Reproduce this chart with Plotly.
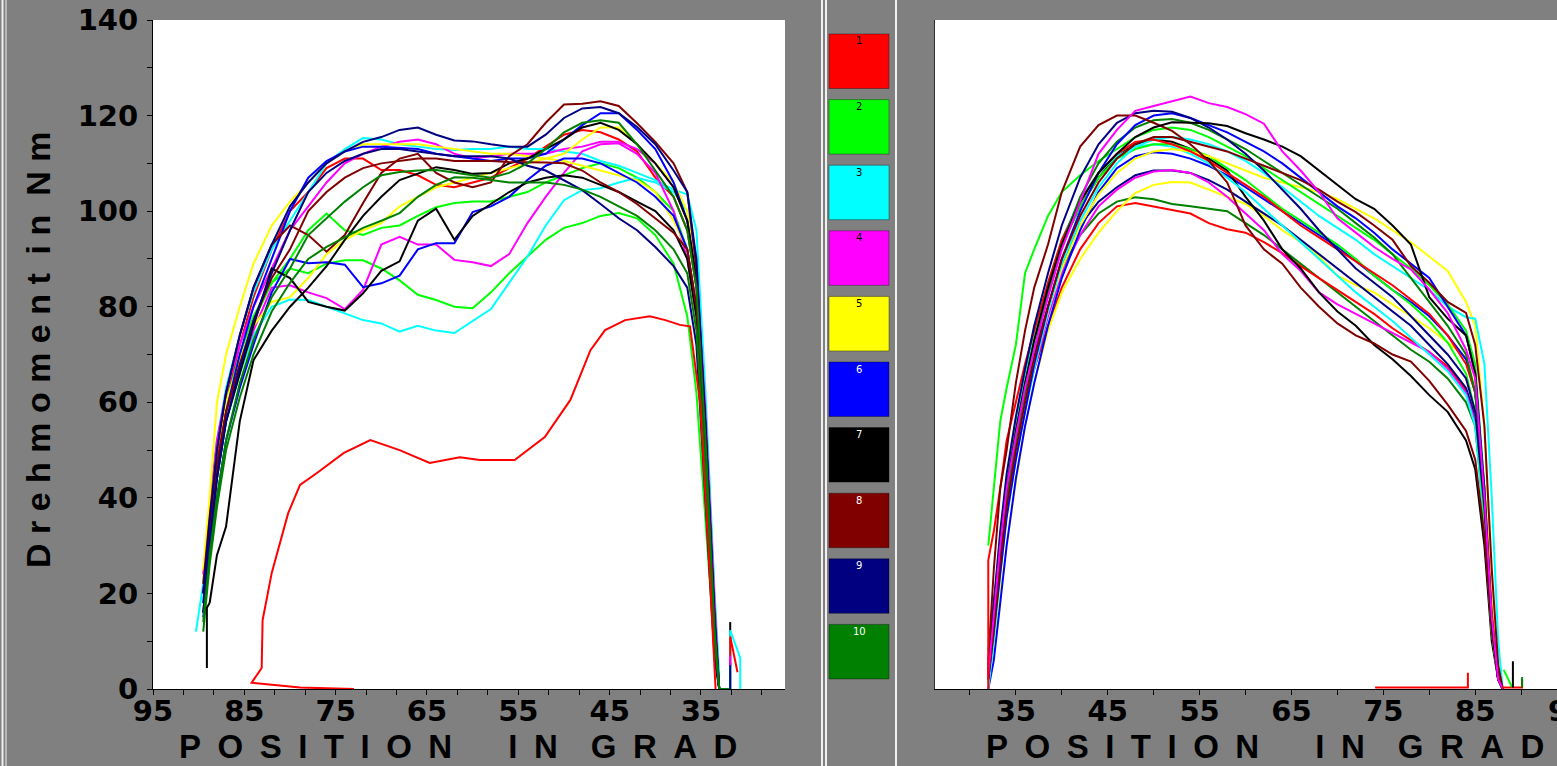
import plotly.graph_objects as go

W, H = 1557, 766

# ---------------- legend / colours ----------------
SERIES_NAMES = ["1", "2", "3", "4", "5", "6", "7", "8", "9", "10"]
SERIES_COLORS = ["#FF0000", "#00FF00", "#00FFFF", "#FF00FF", "#FFFF00",
                 "#0000FF", "#000000", "#800000", "#000080", "#008000"]
LABEL_COLORS = ["black", "black", "black", "black", "black",
                "white", "white", "white", "white", "white"]

# ---------------- left panel (position in grad, torque in Nm) ----------------
L_POS = [90.3, 89.5, 88.8, 88, 87, 85.5, 84, 82, 80, 78, 76, 74, 72, 70, 68, 66, 64, 62,
         60, 58, 56, 54, 52, 50, 48, 46, 44, 42, 40, 38, 36.5, 35.5, 34.5, 33.5, 33]

L_RED_A = [None, 20, 34, 48, 60, 72, 82, 92, 100, 104, 109, 111, 111, 108.6, 108.6, 107.5, 105.5, 105,
           106, 107, 109, 111, 113.5, 116, 117, 116.5, 115, 112.5, 107, 103, 96, 84, 55, 14, 0]
L_LIME_A = [None, 22, 36, 50, 60, 70, 78, 85, 90, 96, 99.5, 96, 95, 96.5, 97, 99, 100.8, 101.7,
            102, 102, 103, 104, 106, 107.5, 109, 110, 109, 107, 104, 100, 92, 78, 48, 12, 0]
L_LIME_B = [None, 18, 32, 46, 58, 68, 77, 85, 88, 87, 89, 89.7, 89.7, 88, 85.5, 82.5, 81.4, 80,
            79.7, 83, 87, 90.5, 94, 96.5, 97.5, 99, 99.6, 98.5, 95, 89, 78, 62, 35, 8, 0]
L_CYAN_A = [12, 22, 38, 52, 63, 74, 83, 92, 98, 104, 110, 113, 115.3, 115, 114, 113.5, 113, 112.8,
            113, 113, 113.5, 113, 113, 112.5, 112, 110.5, 109.5, 108, 106.5, 104.5, 103.5, 96, 62, 20, 3]
L_CYAN_B = [None, 20, 33, 45, 56, 66, 74, 80, 81.5, 81.4, 80, 78.7, 77.2, 76.5, 74.8, 76, 75, 74.5,
            77, 79.5, 85, 90.5, 97, 102.3, 104.4, 104.8, 106, 107, 106, 104, 100, 90, 58, 16, 0]
L_MAGENTA_A = [None, 24, 38, 52, 62, 72, 80, 88, 96, 101, 106, 110, 112, 113.5, 114.5, 115, 114, 112,
               111, 111.5, 112, 112, 112, 113, 113.5, 114.5, 114.5, 113, 110, 105, 98, 88, 58, 18, 0]
L_MAGENTA_B = [None, 20, 34, 48, 58, 67, 75, 84, 84.5, 83, 81.8, 79.5, 83.5, 93, 94.6, 93, 93, 89.8,
               89.3, 88.5, 91, 97.5, 103, 108, 112.5, 114, 114.2, 112, 108, 100, 90, 78, 50, 12, 0]
L_YELLOW_A = [None, 25, 40, 60, 70, 80, 89, 97, 102, 106, 110, 112.5, 114, 114, 114, 114, 113.5, 113,
              112.5, 112, 112, 111.5, 111, 110.5, 109.5, 108.5, 107.5, 106.5, 104, 98, 92, 78, 45, 10, 0]
L_YELLOW_B = [None, 22, 36, 50, 60, 69, 76, 81, 82, 86, 91, 94, 96, 97.5, 101, 103, 105, 106,
              107, 108, 109, 110, 111, 112, 115, 117.5, 117.5, 114, 110, 106, 100, 86, 52, 12, 0]
L_BLUE_A = [None, 18, 32, 45, 58, 70, 80, 90, 100, 107, 110.5, 112.5, 113.5, 113.5, 113.2, 113, 112, 111.5,
            111, 110.5, 111, 111, 112, 115, 118, 120.5, 120.5, 117, 113, 106, 98, 85, 50, 8, 0]
L_BLUE_B = [None, 15, 28, 40, 52, 63, 72, 83, 90, 89.1, 89.3, 88.8, 84.1, 84.9, 86.5, 92, 93.3, 93.3,
            99.8, 101, 103, 106.5, 109.5, 111, 111, 110, 108, 106, 103, 99, 92, 80, 45, 8, 0]
L_BLACK_A = [None, 16, 30, 44, 56, 66, 76, 88, 86, 81, 80, 79.2, 82.8, 87.5, 89.5, 98, 100.5, 94,
             99, 101.5, 104, 106, 107, 107.5, 107, 105.5, 104, 102, 100, 96, 90, 78, 45, 10, 0]
L_BLACK_B = [None, None, 18, 28, 34, 56, 68.8, 75, 80, 84, 88.5, 94, 99, 103, 106.5, 107.9, 109.2, 108.6,
             107.8, 108, 110, 111, 113, 115, 117.5, 118.5, 117, 114, 110, 105, 98, 86, 55, 14, 0]
L_MAROON_A = [None, 22, 36, 50, 62, 74, 84, 93, 97, 95, 91.5, 95, 101.7, 108, 111, 112, 108, 106,
              105, 106, 111.5, 114, 118.5, 122.3, 122.5, 123, 122, 118.4, 114.5, 110, 104, 88, 55, 15, 0]
L_MAROON_B = [None, 20, 34, 47, 58, 68, 77, 86, 92, 100, 104, 107, 109, 110, 110.5, 111, 111, 110.5,
              110.5, 110.5, 110.3, 110.3, 110.2, 110, 108.5, 106, 104, 101.5, 98.5, 95.5, 92, 80, 50, 12, 0]
L_NAVY_A = [None, 20, 35, 50, 62, 74, 84, 93, 101, 106, 110, 112.5, 114.5, 115.5, 117, 117.5, 116, 114.8,
            114.6, 114, 113.5, 113.5, 116, 119.5, 121.5, 121.8, 120.5, 117.6, 114, 108.5, 104, 90, 55, 14, 0]
L_NAVY_B = [None, 16, 30, 44, 56, 67, 77, 87, 96, 104, 108, 110.5, 112, 113, 113, 112.5, 112, 111.5,
            111.5, 111.5, 111, 109.5, 108.5, 106.5, 104.4, 101.5, 98.5, 96, 92.5, 88.5, 84, 72, 40, 6, 0]
L_GREEN_A = [None, 14, 28, 40, 52, 64, 73, 82, 88, 95, 98.5, 102, 105, 107.5, 108.2, 108.5, 108.6, 108,
             107.5, 107, 108, 110, 113, 116.5, 118.5, 119, 118.5, 114, 108.6, 103, 96, 84, 52, 12, 0]
L_GREEN_B = [None, 12, 26, 38, 50, 61, 70, 79, 85, 90, 92.5, 94.5, 96.5, 98, 99.6, 103, 105.5, 107.1,
             107, 106.5, 106, 106, 106, 105.5, 104.5, 103, 101, 99, 96, 92, 87, 75, 45, 10, 0]

# low red run (own positions)
L_RED_LOW_POS = [73.0, 78.9, 84.2, 83.1, 83.0, 82.0, 80.2, 78.9, 76.9, 74.1, 71.2, 68.0, 64.7, 61.4,
                 59.2, 55.4, 52.1, 49.3, 47.1, 45.5, 43.3, 40.6, 38.9, 37.3, 36.2, 35.1, 34.2, 33.4]
L_RED_LOW_VAL = [0, 0.3, 1.3, 4.4, 14.4, 24.3, 36.8, 42.7, 45.4, 49.4, 52.1, 50.0, 47.3, 48.5,
                 47.9, 47.9, 52.7, 60.5, 70.9, 75.1, 77.2, 78.0, 77.2, 76.2, 75.9, 60, 30, 0]

# short end pieces (position list, torque list, colour index)
L_TAILS = [
    ([33, 31.8], [0, 0], 9),
    ([31.8, 31.8], [0, 14], 6),
    ([31.8, 31.8, 30.7, 30.7], [0, 12.3, 6.5, 0], 2),
    ([31.8, 31.8, 31.0], [5, 11, 3.5], 0),
    ([31.8, 31.8], [0, 5.5], 8),
    ([31.8, 31.8], [5, 7], 3),
    ([89.1, 89.1, 88.8], [4.4, 17, 18], 6),
]

L_CURVES = [
    (L_RED_A, 0), (L_LIME_A, 1), (L_LIME_B, 1), (L_CYAN_A, 2), (L_CYAN_B, 2),
    (L_MAGENTA_A, 3), (L_MAGENTA_B, 3), (L_YELLOW_A, 4), (L_YELLOW_B, 4),
    (L_BLUE_A, 5), (L_BLUE_B, 5), (L_BLACK_A, 6), (L_BLACK_B, 6),
    (L_MAROON_A, 7), (L_MAROON_B, 7), (L_NAVY_A, 8), (L_NAVY_B, 8),
    (L_GREEN_A, 9), (L_GREEN_B, 9),
]

# ---------------- right panel ----------------
R_POS = [32, 32.6, 33.3, 34, 35, 36, 37, 38.5, 40, 42, 44, 46, 48, 50, 52, 54, 56, 58, 60, 62,
         64, 66, 68, 70, 72, 74, 76, 78, 80, 82, 84, 85, 86, 86.8, 87.5, 88]

R_MAGENTA_A = [3, 15, 30, 42, 53, 63, 71, 82, 92, 102, 112, 117, 121, 122, 123, 124, 122.6, 121.8, 120.3, 118.3,
               112.5, 108.5, 104, 98.5, 95.5, 92.5, 90, 87.8, 83.6, 78.7, 71, 65, 40, 15, 2, 0]
R_BLACK_A = [4, 16, 30, 42, 54, 64, 73, 84, 93, 102, 108, 112, 115.5, 117.5, 118.6, 118.5, 118.4, 117.8, 116.3, 115,
             113.5, 111.5, 108.5, 105.5, 102.5, 100.5, 97, 93, 82, 77.5, 74, 66, 40, 14, 2, 0]
R_MAROON_A = [6, 25, 42, 50, 64, 75, 84, 93, 104, 113.5, 118, 120, 120, 118.5, 116.8, 114, 110.5, 106, 97, 92,
              89, 84, 80, 76.5, 74, 72.3, 70, 68.5, 64.5, 59.5, 54, 48, 32, 12, 2, 0]
R_MAROON_B = [2, 12, 26, 38, 50, 60, 69, 80, 90, 99, 106, 111, 114, 115.5, 115.5, 114.5, 113.5, 112.5, 111, 109.5,
              108, 106.5, 104.5, 102, 99.8, 97, 94, 88.5, 85, 81, 78.7, 72, 55, 25, 5, 0]
R_NAVY_A = [5, 18, 33, 45, 57, 67, 76, 87, 97, 107, 114, 118.5, 120.5, 121, 120.8, 119.5, 117.5, 115, 112, 108.5,
            104.5, 100.5, 96, 92, 88, 85, 82, 78, 74, 70, 65, 58, 38, 14, 2, 0]
R_BLUE_A = [2, 12, 24, 36, 48, 58, 68, 80, 90, 100, 108, 114, 118, 120, 120.5, 119.5, 118, 116.5, 114.5, 112.5,
            110, 107, 104, 101, 98.5, 95.5, 92, 89, 86, 80, 74, 66, 42, 14, 2, 0]
R_GREEN_A = [4, 14, 28, 40, 52, 62, 71, 83, 93, 103, 110, 114.5, 117.5, 119, 119.3, 118.5, 117, 115, 113, 110.5,
             108, 105.5, 103, 100.5, 97.5, 94.5, 91, 86, 81, 76, 70, 62, 40, 15, 2, 0]
R_LIME_A = [30, 42, 56, 63, 72, 87, 92, 99, 104, 107.5, 110.5, 113, 115.5, 117, 117.5, 117, 115.5, 113.5, 111.5, 109,
            106.5, 104, 101.5, 99, 96.5, 94, 91, 88, 84.5, 80.5, 75, 68, 42, 14, 2, 0]
R_CYAN_A = [0, 10, 24, 36, 48, 58, 67, 79, 89, 98, 105, 110, 113.5, 115, 115.5, 115, 114, 112.5, 110.5, 108,
            105, 102, 99, 96.5, 94, 91, 88.5, 86, 83.5, 80, 77.8, 77.5, 68, 40, 10, 0]
R_RED_A = [27, 33, 42, 52, 60, 68, 75, 85, 94, 102, 108, 112, 114.5, 115, 114, 112.5, 110.5, 108, 105.5, 103,
           100, 97, 94.5, 92, 89.5, 87, 84.5, 81.5, 78.5, 74, 68, 62, 42, 16, 3, 0]
R_RED_B = [3, 14, 28, 40, 52, 60, 67, 76, 84, 92, 97.5, 101, 101.7, 101, 100.2, 99.5, 97.5, 96.2, 95.5, 93.5,
           91.2, 88.5, 86, 83.5, 81, 78.5, 75.5, 73, 70.5, 67.5, 62.5, 57, 35, 12, 2, 0]
R_GREEN_B = [8, 18, 30, 42, 54, 62, 70, 80, 88, 95, 99.5, 102, 102.9, 102.5, 101.5, 101, 100.5, 100, 97.5, 95,
             92, 89, 86, 83, 80, 77, 74, 71, 68.5, 65, 60, 55, 35, 12, 2, 0]
R_YELLOW_B = [2, 8, 20, 30, 43, 55, 64, 75, 83, 90, 95.5, 100, 103.8, 105.5, 106.1, 106, 104.5, 103, 101.5, 99,
              96, 93.5, 90.5, 86.5, 84.5, 83, 80.5, 78, 75.5, 72.5, 69.5, 63, 42, 15, 3, 0]
R_YELLOW_A = [4, 14, 26, 38, 50, 60, 68, 79, 88, 97, 103.5, 108, 111, 112.5, 113, 112.5, 111.5, 110, 108.5, 107,
              106, 105, 104, 102.5, 100.5, 98.5, 96, 93.5, 90.5, 87.5, 81, 76, 55, 20, 4, 0]
R_NAVY_B = [3, 13, 27, 40, 52, 62, 70, 80, 89, 97, 102, 105, 107.5, 108.5, 108.5, 108, 106.5, 104.5, 102, 99.5,
            97, 94, 91, 88, 85, 82, 79, 76, 72, 68, 63, 57, 36, 12, 2, 0]
R_MAGENTA_B = [2, 12, 25, 37, 49, 59, 67, 78, 87, 95, 101, 104.5, 107, 108.3, 108.6, 108, 106, 103, 99.5, 96,
               91, 87.5, 83, 80.5, 78.5, 76.5, 74.5, 72.5, 70.5, 67, 62, 56, 35, 12, 2, 0]
R_BLUE_B = [0, 6, 18, 30, 44, 55, 64, 76, 86, 96, 104, 109, 111.5, 112.3, 112, 111, 109.5, 107.5, 105, 102.5,
            100, 97.5, 95, 92.5, 89.5, 86.5, 83.5, 81, 78, 74, 69, 62, 40, 14, 2, 0]
R_BLACK_B = [3, 15, 30, 42, 55, 65, 74, 84, 93, 101, 107, 111.5, 114, 115, 114.5, 113, 111, 108.5, 103, 98,
             92, 88, 83, 79, 76, 72, 69, 65.5, 61.5, 58, 52, 46, 30, 10, 2, 0]
R_CYAN_B = [1, 14, 29, 42, 55, 65, 74, 85, 94, 102.5, 108, 111.5, 113.5, 114, 113.5, 112, 110, 107, 104, 100.5,
            97, 93.5, 90, 86.5, 83, 80, 77, 73.5, 70, 66.5, 61.5, 55, 34, 12, 2, 0]
R_LIME_B = [5, 16, 30, 42, 54, 64, 73, 84, 93, 101, 107, 111, 113, 114, 114, 113, 111.5, 109, 106.5, 103.5,
            100.5, 98, 95.5, 93, 90, 86.5, 83.5, 80.5, 77, 72.5, 66, 58, 36, 12, 2, 0]

R_TAILS = [
    ([74.1, 84.2, 84.2], [0.3, 0.3, 3.4], 0),
    ([87.9, 90.1, 90.1], [0.3, 0.3, 2], 0),
    ([32, 32], [0, 27], 0),
    ([88.1, 89.0], [4, 0.4], 1),
    ([89.1, 89.1], [0.3, 5.8], 6),
    ([90.1, 90.1], [0.3, 2.5], 9),
]

R_CURVES = [
    (R_GREEN_B, 9), (R_RED_B, 0), (R_YELLOW_B, 4), (R_NAVY_B, 8), (R_MAGENTA_B, 3),
    (R_BLUE_B, 5), (R_BLACK_B, 6), (R_CYAN_B, 2), (R_LIME_B, 1), (R_YELLOW_A, 4),
    (R_CYAN_A, 2), (R_RED_A, 0), (R_LIME_A, 1), (R_GREEN_A, 9), (R_BLUE_A, 5),
    (R_NAVY_A, 8), (R_MAROON_B, 7), (R_MAROON_A, 7), (R_BLACK_A, 6), (R_MAGENTA_A, 3),
]

Y_TICKS = [0, 20, 40, 60, 80, 100, 120, 140]
L_X_TICKS = [95, 85, 75, 65, 55, 45, 35]
R_X_TICKS = [35, 45, 55, 65, 75, 85]

EN = "\u2002"
AXIS_TITLE_X = (EN.join("POSITION") + EN * 3 + "\u2009" + EN.join("IN") + EN * 2 + EN.join("GRAD"))
AXIS_TITLE_Y = "D r e h m o m e n t  i n  N m"

# ---------------- figure ----------------
fig = go.Figure()
LW = 2

for vals, ci in L_CURVES:
    fig.add_trace(go.Scatter(x=L_POS, y=vals, mode="lines", xaxis="x", yaxis="y",
                             line=dict(color=SERIES_COLORS[ci], width=LW), showlegend=False,
                             hoverinfo="skip"))
fig.add_trace(go.Scatter(x=L_RED_LOW_POS, y=L_RED_LOW_VAL, mode="lines", xaxis="x", yaxis="y",
                         line=dict(color=SERIES_COLORS[0], width=LW), showlegend=False, hoverinfo="skip"))
for xs, ys, ci in L_TAILS:
    fig.add_trace(go.Scatter(x=xs, y=ys, mode="lines", xaxis="x", yaxis="y",
                             line=dict(color=SERIES_COLORS[ci], width=LW), showlegend=False,
                             hoverinfo="skip"))

for vals, ci in R_CURVES:
    fig.add_trace(go.Scatter(x=R_POS, y=vals, mode="lines", xaxis="x2", yaxis="y2",
                             line=dict(color=SERIES_COLORS[ci], width=LW), showlegend=False,
                             hoverinfo="skip"))
for xs, ys, ci in R_TAILS:
    fig.add_trace(go.Scatter(x=xs, y=ys, mode="lines", xaxis="x2", yaxis="y2",
                             line=dict(color=SERIES_COLORS[ci], width=LW), showlegend=False,
                             hoverinfo="skip"))


def px(x):
    return x / W


def py(y):
    return 1 - y / H


TICKFONT = dict(family="DejaVu Sans", size=29, color="black", weight="bold")

fig.update_layout(
    width=W, height=H, autosize=False,
    margin=dict(l=0, r=0, t=0, b=0, pad=0, autoexpand=False),
    paper_bgcolor="#808080", plot_bgcolor="white",
    showlegend=False,
    xaxis=dict(domain=[px(153), px(785)], range=[95, 25.8], anchor="y", automargin=False,
               tickvals=L_X_TICKS, ticktext=[str(v) for v in L_X_TICKS],
               ticks="outside", ticklen=5, tickcolor="black", tickwidth=1, ticklabelstandoff=-9,
               minor=dict(tick0=95, dtick=10 / 3, ticks="outside", ticklen=5, tickcolor="black"),
               showline=True, linecolor="black", linewidth=1, showgrid=False, zeroline=False,
               tickfont=TICKFONT, fixedrange=True),
    yaxis=dict(domain=[py(689), py(20)], range=[0, 140], anchor="x", automargin=False,
               tickvals=Y_TICKS, ticktext=[str(v) for v in Y_TICKS],
               ticks="outside", ticklen=5, tickcolor="black", tickwidth=1, ticklabelstandoff=3,
               minor=dict(dtick=10, ticks="outside", ticklen=5, tickcolor="black"),
               showline=True, linecolor="black", linewidth=1, showgrid=False, zeroline=False,
               tickfont=TICKFONT, fixedrange=True),
    xaxis2=dict(domain=[px(935), 1.0], range=[26.2, 93.9], anchor="y2", automargin=False,
                tickvals=R_X_TICKS, ticktext=[str(v) for v in R_X_TICKS],
                ticks="outside", ticklen=5, tickcolor="black", tickwidth=1, ticklabelstandoff=-9,
                minor=dict(tick0=30, dtick=5, ticks="outside", ticklen=5, tickcolor="black"),
                showline=True, linecolor="black", linewidth=1, showgrid=False, zeroline=False,
                tickfont=TICKFONT, fixedrange=True),
    yaxis2=dict(domain=[py(689), py(20)], range=[0, 140], anchor="x2", automargin=False,
                showticklabels=False, ticks="", showline=True, linecolor="#303030", linewidth=1,
                showgrid=False, zeroline=False, fixedrange=True),
)

shapes = []
annotations = []

# separator lines
for xline, wline in [(2.5, 2), (6, 1), (822, 2), (826, 2), (896, 2)]:
    shapes.append(dict(type="line", xref="paper", yref="paper", x0=px(xline), x1=px(xline),
                       y0=0, y1=1, line=dict(color="#F0F0F0", width=wline)))

# legend boxes
for i, (name, col, lcol) in enumerate(zip(SERIES_NAMES, SERIES_COLORS, LABEL_COLORS)):
    top = 34 + i * 65.6
    shapes.append(dict(type="rect", xref="paper", yref="paper",
                       x0=px(829), x1=px(889), y0=py(top + 54.5), y1=py(top),
                       fillcolor=col, line=dict(color="rgba(0,0,0,0.35)", width=1)))
    annotations.append(dict(text=name, xref="paper", yref="paper", x=px(859), y=py(top + 7),
                            xanchor="center", yanchor="middle", showarrow=False,
                            font=dict(family="DejaVu Sans", size=10, color=lcol)))

# axis titles
for cx in (458, 1265):
    annotations.append(dict(text=AXIS_TITLE_X, xref="paper", yref="paper", x=px(cx), y=py(746),
                            xanchor="center", yanchor="middle", showarrow=False,
                            font=dict(family="Liberation Sans", size=33, color="black", weight="bold")))
annotations.append(dict(text=AXIS_TITLE_Y, xref="paper", yref="paper", x=px(38), y=py(350),
                        xanchor="center", yanchor="middle", showarrow=False, textangle=-90,
                        font=dict(family="Liberation Sans Narrow, Liberation Sans", size=34,
                                  color="black", weight="bold")))
# partially visible last tick label of the right axis
annotations.append(dict(text="95", xref="paper", yref="paper", x=px(1568), y=py(711),
                        xanchor="center", yanchor="middle", showarrow=False, font=TICKFONT))

fig.update_layout(shapes=shapes, annotations=annotations)
fig.write_html("out.html")
